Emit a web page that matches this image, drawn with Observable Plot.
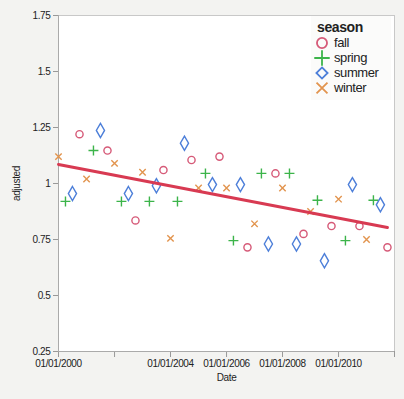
<!DOCTYPE html>
<html>
<head>
<meta charset="utf-8">
<script src="https://cdn.jsdelivr.net/npm/d3@7"></script>
<script src="https://cdn.jsdelivr.net/npm/@observablehq/plot@0.6"></script>
<style>
  html, body { margin: 0; padding: 0; background: #f3f3f1; }
  #wrap { position: relative; width: 404px; height: 399px; font-family: "Liberation Sans Narrow", "Liberation Sans", Arial, sans-serif; }
  #chart svg text { letter-spacing: -0.35px; }
  #legend { position: absolute; left: 311px; top: 16px; width: 80px; height: 84px; background: #fbfbfa; color: #222; letter-spacing: -0.4px; }
  #legend .title { font-weight: bold; font-size: 14px; position: absolute; left: 6px; top: 3px; }
  #legend .row { position: absolute; left: 3px; height: 15px; display: flex; align-items: center; font-size: 13px; }
  #legend svg { margin-right: 4px; }
</style>
</head>
<body>
<div id="wrap"><div id="chart"></div><div id="legend"></div></div>
<script>
const years = [2000, 2001, 2002, 2003, 2004, 2005, 2006, 2007, 2008, 2009, 2010, 2011];
const seasons = ["fall", "spring", "summer", "winter"];
const seasonMonth = {winter: 0, spring: 3, summer: 6, fall: 9};
const winter = [1.12, 1.02, 1.09, 1.05, 0.755, 0.98, 0.98, 0.82, 0.98, 0.875, 0.93, 0.75];
const spring = [0.92, 1.147, 0.92, 0.92, 0.92, 1.045, 0.745, 1.045, 1.045, 0.925, 0.745, 0.925];
const summer = [0.955, 1.237, 0.955, 0.99, 1.18, 0.995, 0.995, 0.73, 0.73, 0.655, 0.995, 0.905];
const fall = [1.22, 1.147, 0.835, 1.06, 1.105, 1.12, 0.715, 1.045, 0.775, 0.81, 0.81, 0.715];
const yTicks = [0.25, 0.5, 0.75, 1, 1.25, 1.5, 1.75];
const xTickYears = [2000, 2002, 2004, 2006, 2008, 2010, 2012];
const xLabelYears = [2000, 2004, 2006, 2008, 2010];
const colors = ["#d65a78", "#3cb44a", "#4d7fd9", "#e2944e"];
const symbols = ["circle", "plus", "diamond", "times"];
const symbolR = [3.6, 3.3, 4.3, 3.0];

const series = {winter, spring, summer, fall};
const data = [];
for (const s of seasons) {
  years.forEach((y, i) => data.push({date: new Date(Date.UTC(y, seasonMonth[s], 1)), adjusted: series[s][i], season: s}));
}
data.sort((a, b) => a.date - b.date);

const fmt = d3.utcFormat("%m/%d/%Y");
const font = `"Liberation Sans Narrow", "Liberation Sans", Arial, sans-serif`;
const xTickDates = xTickYears.map(y => new Date(Date.UTC(y, 0, 1)));
const xFmt = d => xLabelYears.includes(d.getUTCFullYear()) ? fmt(d) : "";

const chart = Plot.plot({
  width: 404,
  height: 399,
  marginLeft: 58,
  marginTop: 15,
  marginRight: 10,
  marginBottom: 48,
  style: {background: "#f3f3f1", fontFamily: font, fontSize: "10px", color: "#222"},
  x: {
    type: "utc",
    domain: [new Date(Date.UTC(2000, 0, 1)), new Date(Date.UTC(2012, 0, 1))]
  },
  y: {domain: [0.25, 1.75]},
  color: {domain: seasons, range: colors},
  symbol: {domain: seasons, range: symbols},
  marks: [
    Plot.frame({fill: "white", stroke: "#c8c8c8"}),
    Plot.axisX({stroke: "#999", ticks: xTickDates, tickFormat: xFmt, tickSize: 6, tickPadding: 2, label: "Date", labelAnchor: "center", labelArrow: "none", labelOffset: 29, fill: "#222"}),
    Plot.axisY({stroke: "#999", ticks: yTicks, tickFormat: d => String(d), tickSize: 5, tickPadding: 3, label: "adjusted", labelAnchor: "center", labelArrow: "none", labelOffset: 46, fill: "#222"}),
    Plot.ruleX([new Date(Date.UTC(2000, 0, 1))], {stroke: "#aaa"}),
    Plot.ruleY([0.25], {stroke: "#aaa"}),
    ...seasons.map((s, i) => Plot.dot(data, {filter: d => d.season === s, x: "date", y: "adjusted", symbol: "season", stroke: "season", r: symbolR[i], strokeWidth: 1.4})),
    Plot.linearRegressionY(data, {x: "date", y: "adjusted", stroke: "#d83a52", strokeWidth: 3, ci: 0})
  ]
});
document.getElementById("chart").appendChild(chart);

// legend
const legend = document.getElementById("legend");
const title = document.createElement("div");
title.className = "title";
title.textContent = "season";
legend.appendChild(title);
const sym = {
  circle: d3.symbolCircle, plus: d3.symbolPlus, diamond: d3.symbolDiamond2, times: d3.symbolTimes
};
seasons.forEach((s, i) => {
  const row = document.createElement("div");
  row.className = "row";
  row.style.top = (19 + i * 15) + "px";
  const svg = d3.create("svg").attr("width", 16).attr("height", 16);
  svg.append("path")
    .attr("transform", "translate(8,8)")
    .attr("d", d3.symbol(sym[symbols[i]], 80)())
    .attr("fill", "none").attr("stroke", colors[i]).attr("stroke-width", 1.8);
  row.appendChild(svg.node());
  const t = document.createElement("span");
  t.textContent = s;
  row.appendChild(t);
  legend.appendChild(row);
});
</script>
</body>
</html>
